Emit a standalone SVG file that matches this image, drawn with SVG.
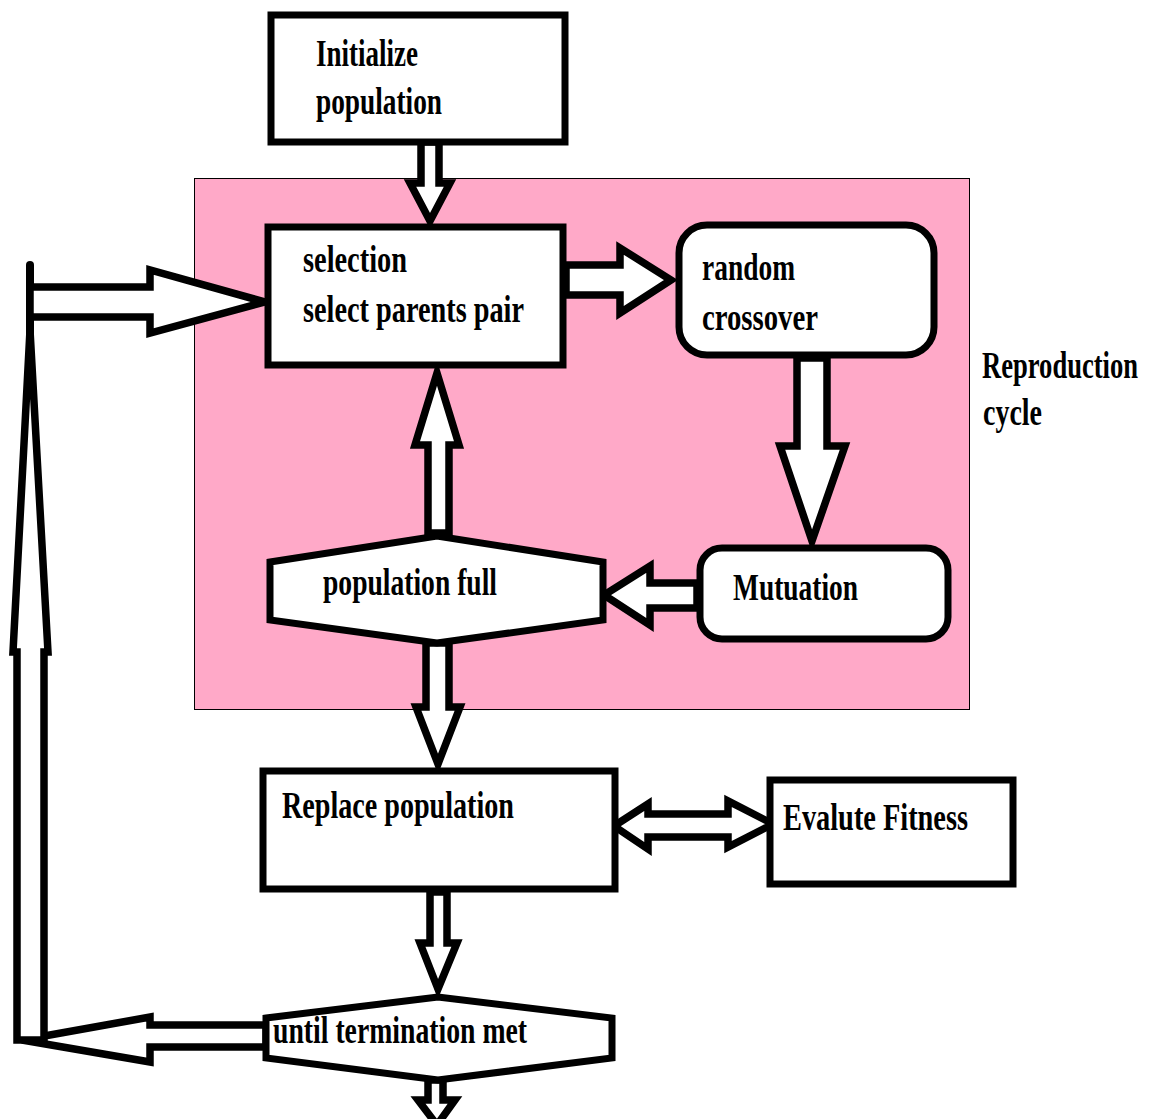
<svg xmlns="http://www.w3.org/2000/svg" width="1153" height="1119" viewBox="0 0 1153 1119">
<style>
.box{fill:#fff;stroke:#000;stroke-width:7}
.arr{fill:#fff;stroke:#000;stroke-width:7.5;stroke-linejoin:miter}
.t{font-family:"Liberation Serif","Times New Roman",serif;font-weight:bold;font-size:38px;fill:#000}
</style>
<rect width="1153" height="1119" fill="#fff"/>
<g id="reproduction-cycle">
<rect x="194.5" y="178.5" width="775" height="531" fill="#FFA9C8" stroke="#000" stroke-width="1"/>
<text class="t" transform="translate(982,378) scale(0.7,1)">Reproduction</text>
<text class="t" x="983" y="425" textLength="59" lengthAdjust="spacingAndGlyphs">cycle</text>
</g>
<g id="connectors">
<polygon class="arr" points="421,142 439,142 439,183 450,183 430,221 410,183 421,183"/>
<polygon class="arr" points="566,265 620,265 620,248 671,280 620,313 620,295 566,295"/>
<polygon class="arr" points="797,358 827,358 827,446 845,446 812,541 780,446 797,446"/>
<polygon class="arr" points="697,583 650,583 650,566 604,595 650,625 650,608 697,608"/>
<polygon class="arr" points="428,533 428,445 415,445 437,373 459,445 449,445 449,533"/>
<polygon class="arr" points="426,643 449,643 449,707 460,707 438,764 416,707 426,707"/>
<polygon class="arr" points="614,826 648,804 648,814 728,814 728,801 773,824 728,847 728,837 648,837 648,849"/>
<polygon class="arr" points="430,892 447,892 447,943 457,943 438,989 420,943 430,943"/>
<polygon class="arr" points="428,1080 443,1080 443,1100 455,1100 437,1125 418,1100 428,1100"/>
<polygon class="arr" points="266,1025 150,1025 150,1017 22,1040 150,1062 150,1047 266,1047"/>
<polygon class="arr" points="17,1040 17,652 13,652 30,330 48,652 44,652 44,1040"/>
<line x1="30" y1="265" x2="30" y2="335" stroke="#000" stroke-width="8" stroke-linecap="round"/>
<polygon class="arr" points="30,287 150,287 150,270 265,302 150,333 150,317 30,317"/>
</g>
<g id="initialize">
<rect class="box" x="271" y="15" width="294" height="127"/>
<text class="t" x="316" y="66" textLength="102" lengthAdjust="spacingAndGlyphs">Initialize</text>
<text class="t" x="316" y="114" textLength="126" lengthAdjust="spacingAndGlyphs">population</text>
</g>
<g id="selection">
<rect class="box" x="268" y="227" width="295" height="138"/>
<text class="t" x="303" y="272" textLength="104" lengthAdjust="spacingAndGlyphs">selection</text>
<text class="t" x="303" y="322" textLength="221" lengthAdjust="spacingAndGlyphs">select parents pair</text>
</g>
<g id="crossover">
<rect class="box" x="679" y="225" width="255" height="130" rx="28"/>
<text class="t" x="702" y="280" textLength="93" lengthAdjust="spacingAndGlyphs">random</text>
<text class="t" x="702" y="330" textLength="116" lengthAdjust="spacingAndGlyphs">crossover</text>
</g>
<g id="mutation">
<rect class="box" x="700" y="548" width="248" height="91" rx="22"/>
<text class="t" x="733" y="600" textLength="125" lengthAdjust="spacingAndGlyphs">Mutuation</text>
</g>
<g id="population-full">
<polygon class="box" points="270,562 437,536 603,562 603,620 437,643 270,620"/>
<text class="t" x="323" y="595" textLength="174" lengthAdjust="spacingAndGlyphs">population full</text>
</g>
<g id="replace">
<rect class="box" x="263" y="771" width="352" height="118"/>
<text class="t" x="282" y="818" textLength="232" lengthAdjust="spacingAndGlyphs">Replace population</text>
</g>
<g id="evaluate">
<rect class="box" x="770" y="780" width="243" height="104"/>
<text class="t" x="783" y="830" textLength="185" lengthAdjust="spacingAndGlyphs">Evalute Fitness</text>
</g>
<g id="termination">
<polygon class="box" points="266,1018 438,997 612,1018 612,1058 438,1080 266,1058"/>
<text class="t" x="273" y="1043" textLength="254" lengthAdjust="spacingAndGlyphs">until termination met</text>
</g>
</svg>
